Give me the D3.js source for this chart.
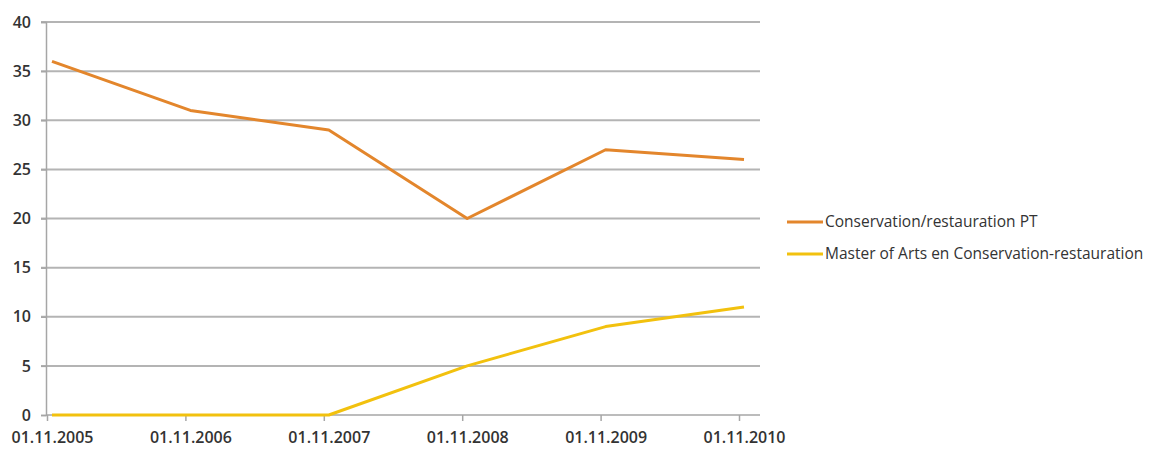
<!DOCTYPE html>
<html>
<head>
<meta charset="utf-8">
<script src="https://cdn.jsdelivr.net/npm/d3@7"></script>
<style>
  body { margin: 0; background: #fff; }
  text { font-family: "Open Sans", sans-serif; fill: #333; }
</style>
</head>
<body>
<div id="chart"></div>
<script>
// data
var dates = ["01.11.2005","01.11.2006","01.11.2007","01.11.2008","01.11.2009","01.11.2010"];
var conservationPT = [36, 31, 29, 20, 27, 26];
var masterArts = [0, 0, 0, 5, 9, 11];
var seriesNames = ["Conservation/restauration PT", "Master of Arts en Conservation-restauration"];
var yTicks = [0, 5, 10, 15, 20, 25, 30, 35, 40];

var colors = ["#e3862c", "#f2c10e"];

var width = 1151, height = 451;

var svg = d3.select("#chart")
  .append("svg")
    .attr("width", width)
    .attr("height", height);

// x positions for dates
var x = d3.scalePoint()
    .domain(dates)
    .range([52, 744]);

var y = d3.scaleLinear()
    .domain([0, 40])
    .range([415, 22]);

// horizontal gridlines
svg.append("g")
  .selectAll("line")
  .data(yTicks.filter(d => d > 0))
  .join("line")
    .attr("x1", 41)
    .attr("x2", 760)
    .attr("y1", d => y(d))
    .attr("y2", d => y(d))
    .attr("stroke", "#b4b4b4")
    .attr("stroke-width", 2);

// y axis
var yAxis = svg.append("g")
    .attr("transform", "translate(46,0)")
    .call(d3.axisLeft(y).tickValues(yTicks).tickSize(5).tickPadding(10));
yAxis.select(".domain").attr("stroke", "#a6a6a6").attr("stroke-width", 1.5);
yAxis.selectAll(".tick line").attr("stroke", "#a6a6a6").attr("stroke-width", 1.5);
yAxis.selectAll("text")
    .attr("font-family", "Open Sans")
    .attr("font-size", 16)
    .attr("font-weight", 600)
    .attr("fill", "#2a2a2a");

// x axis
var xAxis = svg.append("g")
    .attr("transform", `translate(0,${y(0)})`)
    .call(d3.axisBottom(x).tickSize(6).tickPadding(11));
xAxis.select(".domain")
    .attr("d", `M46,0H760`)
    .attr("stroke", "#a6a6a6").attr("stroke-width", 1.5);
xAxis.selectAll(".tick line")
    .attr("transform", "translate(-5,0)")
    .attr("stroke", "#a6a6a6").attr("stroke-width", 1.5);
xAxis.selectAll("text")
    .attr("font-family", "Open Sans")
    .attr("font-size", 16)
    .attr("font-weight", 600)
    .attr("fill", "#2a2a2a");

// lines
var allSeries = [conservationPT, masterArts];
var line = d3.line()
    .x((d, i) => x(dates[i]))
    .y(d => y(d));

svg.append("g")
  .selectAll("path")
  .data(allSeries)
  .join("path")
    .attr("fill", "none")
    .attr("stroke", (d, i) => colors[i])
    .attr("stroke-width", 3)
    .attr("stroke-linejoin", "round")
    .attr("d", line);

// legend
var legend = svg.append("g")
  .selectAll("g")
  .data(seriesNames)
  .join("g")
    .attr("transform", (d, i) => `translate(787,${222 + i * 32})`);

legend.append("line")
    .attr("x1", 0).attr("x2", 36)
    .attr("stroke", (d, i) => colors[i])
    .attr("stroke-width", 3);

legend.append("text")
    .attr("x", 38)
    .attr("dy", "0.35em")
    .attr("font-size", 15.5)
    .attr("fill", "#1e1e1e")
    .text(d => d);
</script>
</body>
</html>
